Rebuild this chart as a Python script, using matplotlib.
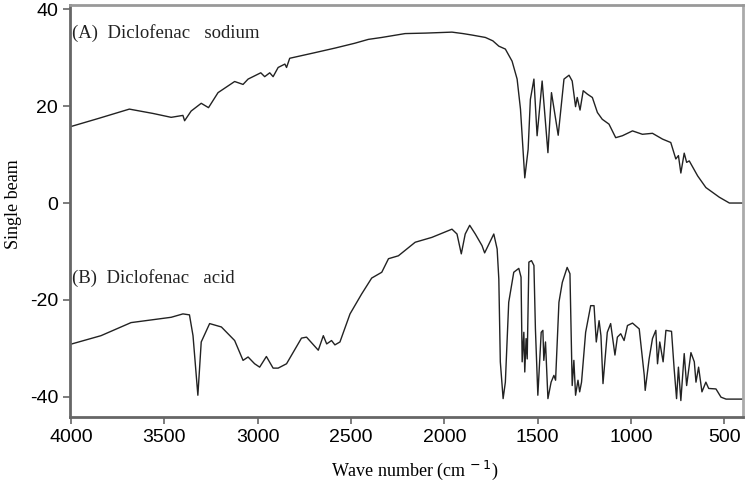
import matplotlib
matplotlib.use("Agg")
import matplotlib.pyplot as plt

plt.rcParams["axes.unicode_minus"] = False

# (A) Diclofenac sodium: wave number, single beam
wn_a = [4005, 4000, 3850, 3687, 3560, 3463, 3400, 3391, 3356, 3302, 3263, 3212, 3123, 3078,
        3051, 2983, 2962, 2935, 2917, 2890, 2854, 2845, 2828, 2700, 2586, 2480, 2407, 2335,
        2210, 2100, 1959, 1900, 1852, 1780, 1740, 1708, 1673, 1637, 1610, 1592, 1569, 1551,
        1539, 1520, 1503, 1476, 1445, 1426, 1390, 1359, 1332, 1315, 1297, 1288, 1273, 1256,
        1234, 1207, 1180, 1154, 1118, 1082, 1046, 992, 939, 885, 831, 787, 760, 746, 733,
        715, 702, 688, 643, 599, 527, 473, 400]
sb_a = [15.8, 15.8, 17.5, 19.4, 18.5, 17.7, 18.1, 17.0, 19.0, 20.6, 19.7, 22.8, 25.1, 24.5,
        25.6, 26.9, 26.1, 26.9, 26.1, 28.0, 28.7, 28.0, 29.9, 31.0, 32.0, 33.0, 33.8, 34.2,
        35.0, 35.1, 35.3, 35.0, 34.7, 34.2, 33.5, 32.4, 31.8, 29.3, 25.6, 19.4, 5.2, 11.1,
        21.4, 25.6, 13.9, 25.2, 10.4, 22.8, 14.0, 25.6, 26.4, 25.2, 19.9, 21.8, 19.2, 23.2,
        22.5, 21.8, 18.7, 17.3, 16.3, 13.5, 13.9, 14.9, 14.2, 14.4, 13.2, 12.5, 9.1, 9.8, 6.2,
        10.3, 8.4, 8.7, 5.6, 3.2, 1.2, 0.0, 0.0]

# (B) Diclofenac acid
wn_b = [4005, 3995, 3839, 3678, 3463, 3400, 3365, 3346, 3320, 3302, 3257, 3194, 3123, 3078,
        3051, 3016, 2989, 2953, 2917, 2890, 2845, 2765, 2738, 2675, 2648, 2630, 2604, 2586,
        2559, 2505, 2443, 2389, 2335, 2299, 2246, 2156, 2067, 1959, 1932, 1909, 1888, 1864,
        1834, 1798, 1784, 1744, 1735, 1717, 1708, 1700, 1685, 1673, 1655, 1628, 1601, 1589,
        1583, 1574, 1569, 1562, 1556, 1547, 1533, 1520, 1512, 1499, 1481, 1472, 1467, 1458,
        1445, 1428, 1413, 1404, 1386, 1368, 1342, 1327, 1315, 1306, 1297, 1284, 1275, 1265,
        1243, 1229, 1216, 1198, 1186, 1171, 1161, 1150, 1127, 1109, 1086, 1073, 1055, 1037,
        1019, 992, 956, 929, 924, 903, 885, 867, 858, 846, 828, 813, 783, 769, 756, 746, 733,
        715, 702, 679, 661, 652, 638, 620, 599, 584, 545, 518, 491, 400]
sb_b = [-29.2, -29.1, -27.4, -24.7, -23.6, -22.9, -23.1, -27.4, -39.7, -28.7, -24.9, -25.6,
        -28.4, -32.5, -31.8, -33.2, -33.9, -31.7, -34.1, -34.1, -33.2, -27.9, -27.7, -30.4,
        -27.4, -29.1, -28.4, -29.3, -28.7, -22.9, -18.8, -15.5, -14.3, -11.5, -10.9, -8.1,
        -7.1, -5.4, -6.4, -10.5, -6.4, -4.6, -6.4, -8.8, -10.3, -7.1, -6.4, -9.5, -15.7,
        -32.8, -40.4, -37.0, -20.5, -14.3, -13.5, -15.3, -32.8, -26.7, -34.9, -28.0, -32.2,
        -12.2, -11.9, -12.9, -26.0, -39.7, -26.7, -26.3, -32.5, -28.7, -40.4, -37.0, -35.6,
        -36.6, -20.5, -16.4, -13.3, -14.6, -37.7, -32.5, -39.7, -36.6, -39.0, -37.0, -26.7,
        -23.9, -21.2, -21.2, -28.7, -24.3, -27.4, -37.3, -26.7, -24.9, -31.4, -27.7, -27.0,
        -28.4, -25.3, -24.8, -26.0, -35.6, -38.7, -32.2, -28.0, -26.3, -33.2, -28.7, -32.8,
        -26.3, -26.5, -34.2, -40.4, -33.9, -40.8, -31.1, -37.7, -30.9, -32.8, -37.0, -33.9,
        -39.0, -37.0, -38.3, -38.4, -40.1, -40.5, -40.5]

xticks = [4000, 3500, 3000, 2500, 2000, 1500, 1000, 500]
yticks = [-40, -20, 0, 20, 40]

fig = plt.figure(figsize=(7.5, 4.87), dpi=100)
ax = fig.add_axes([0.0933, 0.1437, 0.8974, 0.846])

ax.plot(wn_a, sb_a, color="#222222", lw=1.0)
ax.plot(wn_b, sb_b, color="#222222", lw=1.0)

ax.set_xlim(4005, 400)
ax.set_ylim(-44.2, 40.9)
ax.set_xticks(xticks)
ax.set_yticks(yticks)

serif = ["Liberation Serif", "DejaVu Serif"]
sans = ["Liberation Sans", "DejaVu Sans"]
ax.text(0.003, 0.92, "(A)  Diclofenac   sodium", transform=ax.transAxes,
        family=serif, fontsize=13.5, color="#222222")
ax.text(0.003, 0.325, "(B)  Diclofenac   acid", transform=ax.transAxes,
        family=serif, fontsize=13.5, color="#222222")

fig.text(0.018, 0.58, "Single beam", rotation=90, ha="center", va="center",
         family=serif, fontsize=13)
fig.text(0.553, 0.01, "Wave number (cm$^{\\,-1}$)", ha="center", va="bottom",
         family=serif, fontsize=13)

for lab in ax.get_xticklabels() + ax.get_yticklabels():
    lab.set_family(sans)
    lab.set_fontsize(14)

ax.spines["left"].set_color("#666666")
ax.spines["bottom"].set_color("#666666")
ax.spines["top"].set_color("#999999")
ax.spines["right"].set_color("#aaaaaa")
for s in ax.spines.values():
    s.set_linewidth(2)
ax.tick_params(direction="out", length=5, width=1.2, color="#666666")

fig.savefig("out.png", dpi=100)
